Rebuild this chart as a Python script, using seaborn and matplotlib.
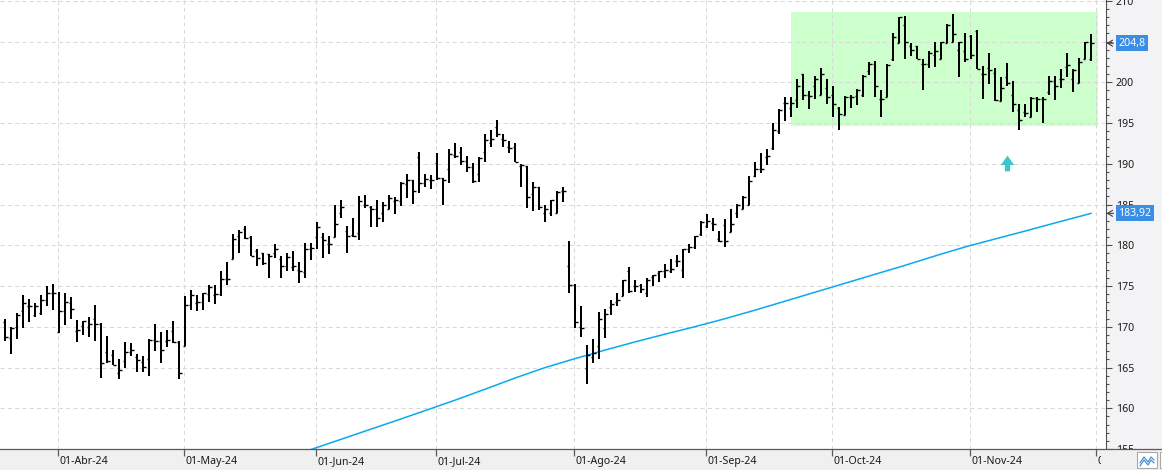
import numpy as np
import pandas as pd
import matplotlib
matplotlib.use("Agg")
import matplotlib.pyplot as plt
import seaborn as sns
from matplotlib.patches import Rectangle
from matplotlib.path import Path
from matplotlib.transforms import blended_transform_factory, Bbox
from matplotlib.ticker import MultipleLocator

# ---------------- data (daily OHLC bars, bar index 0 = first visible session) -------------
opens = [
    170.6, 168.6, 170.0, 171.9, 172.5, 171.5, 171.7, 173.3, 174.2,
    169.4, 171.9, 172.9, 169.5, 170.1, 170.0, 171.0, 170.4, 166.9, 166.5, 164.3,
    165.8, 166.9, 166.3, 165.7, 166.0, 168.4, 168.3, 168.3, 169.5, 168.1,
    167.6, 172.7, 172.9, 173.1, 174.0, 173.9, 174.0, 175.9,
    178.3, 181.15, 181.96, 181.06, 179.3, 179.0, 178.9, 179.1, 178.3, 177.5, 177.3, 177.0, 176.7, 179.6, 181.0,
    181.05, 180.1, 181.0, 183.9, 181.75, 181.3, 181.5, 185.0, 184.7, 184.5, 183.9, 184.45, 185.4, 185.4, 187.5,
    188.0, 190.8, 187.7, 188.0, 190.1, 188.2, 189.3, 191.1, 191.4, 190.35,
    189.6, 188.75, 191.5, 192.6, 194.5, 193.0, 192.0, 192.0, 189.7, 189.7, 186.25, 187.1, 183.9, 184.0, 184.0,
    186.6, 177.5, 175.1, 170.0, 165.0, 166.3, 167.6,
    169.9, 172.4, 173.1, 173.8, 176.85, 175.0, 175.1, 174.1, 176.15, 176.6, 176.85, 176.85, 178.1, 177.0,
    179.55, 179.75, 181.4, 182.4, 182.7, 180.8,
    182.5, 181.6, 183.9, 184.45, 185.0, 188.5, 189.4, 190.8, 191.97, 194.0, 197.4, 196.9, 197.8, 200.97,
    198.4, 199.5, 198.4, 199.3, 198.4, 196.8,
    196.0, 198.15, 198.3, 198.5, 201.4, 202.2, 198.0, 198.2, 202.9, 204.8, 207.0, 204.4, 204.4, 202.3,
    202.3, 203.35, 202.9, 204.8, 205.0, 204.0, 203.8,
    205.7, 206.3, 201.0, 201.7, 201.2, 197.7, 200.6, 198.45, 196.6, 196.3, 195.7, 198.05, 198.0, 198.85,
    200.1, 200.4, 201.9, 200.4, 199.95, 202.9, 202.8,
]
highs = [
    171.0, 170.0, 171.7, 173.9, 173.4, 172.9, 173.9, 175.0, 175.3,
    174.3, 174.1, 173.7, 170.8, 170.7, 171.2, 172.7, 170.5, 168.9, 167.2, 166.1,
    168.1, 168.0, 166.7, 166.4, 168.5, 170.3, 169.4, 169.6, 170.7, 168.3,
    173.8, 174.5, 173.9, 174.2, 175.1, 175.1, 176.9, 178.0,
    181.35, 181.88, 182.37, 181.15, 179.5, 179.1, 178.94, 180.16, 178.7, 179.1, 179.3, 178.0, 180.3, 180.3, 182.8,
    181.55, 181.2, 185.0, 185.6, 182.4, 183.4, 186.05, 186.2, 184.8, 185.6, 185.3, 186.2, 185.9, 187.8, 188.75,
    188.0, 191.4, 188.7, 188.6, 191.3, 188.2, 191.8, 192.5, 192.0, 190.95,
    190.1, 190.8, 193.65, 194.1, 195.4, 193.65, 192.8, 192.6, 190.0, 189.7, 187.8, 187.2, 184.95, 185.6, 186.6,
    187.1, 180.5, 175.25, 172.5, 167.8, 168.5, 171.85,
    172.2, 173.3, 174.2, 175.8, 177.3, 175.8, 175.2, 176.0, 176.4, 176.85, 177.7, 178.3, 178.8, 179.55,
    180.2, 181.2, 183.0, 183.85, 183.4, 181.75,
    183.2, 184.4, 185.05, 186.1, 188.5, 190.2, 191.3, 191.8, 194.96, 196.7, 198.15, 198.2, 200.4, 200.97,
    198.97, 200.8, 201.7, 200.4, 199.55, 196.95,
    198.3, 198.5, 199.15, 200.9, 202.5, 202.6, 199.05, 202.2, 206.1, 207.97, 208.1, 204.8, 204.5, 202.8,
    203.8, 204.9, 204.9, 207.1, 208.4, 205.0, 206.1,
    205.8, 206.4, 202.0, 203.6, 201.7, 200.6, 202.4, 200.16, 197.35, 197.3, 198.15, 198.15, 198.15, 200.8,
    200.8, 201.6, 203.6, 201.6, 202.95, 205.0, 205.9,
]
lows = [
    168.2, 166.7, 168.5, 169.8, 170.6, 171.2, 171.5, 172.5, 172.0,
    169.2, 170.2, 171.0, 168.1, 169.0, 168.8, 168.3, 163.7, 165.6, 165.3, 163.6,
    165.0, 166.4, 164.5, 164.5, 164.0, 167.0, 165.6, 167.5, 168.0, 163.6,
    167.6, 172.1, 171.9, 172.1, 173.0, 172.8, 173.8, 175.1,
    178.28, 179.0, 180.74, 178.69, 177.46, 177.6, 176.0, 178.5, 176.0, 176.85, 176.85, 175.4, 176.0, 178.2, 179.6,
    178.5, 178.9, 181.0, 183.3, 179.0, 181.05, 180.7, 184.6, 182.3, 182.2, 182.8, 184.4, 183.8, 184.8, 185.75,
    185.1, 186.4, 187.1, 186.9, 188.0, 185.0, 187.7, 190.7, 189.85, 189.0,
    187.6, 187.8, 190.25, 192.0, 193.25, 192.0, 191.35, 190.25, 187.2, 184.6, 184.25, 184.3, 182.8, 183.6, 184.0,
    185.35, 174.2, 169.9, 168.7, 163.0, 165.6, 166.0,
    168.6, 171.4, 172.5, 173.8, 174.2, 174.3, 174.1, 173.7, 175.05, 175.5, 175.95, 176.65, 177.3, 175.95,
    179.0, 179.6, 181.15, 182.1, 181.75, 180.4,
    179.75, 181.6, 183.3, 184.4, 185.0, 188.4, 188.9, 189.8, 191.7, 193.7, 195.2, 195.7, 196.9, 197.8,
    196.7, 197.9, 198.4, 197.3, 195.8, 194.2,
    196.0, 196.8, 197.2, 198.15, 200.9, 198.2, 195.8, 198.2, 202.65, 204.8, 202.9, 203.2, 202.9, 199.0,
    201.7, 201.9, 202.9, 204.8, 204.9, 200.7, 202.5,
    202.8, 201.6, 197.95, 199.75, 197.7, 197.7, 199.6, 196.3, 194.1, 195.7, 195.7, 196.4, 195.0, 198.5,
    197.8, 199.3, 200.6, 198.85, 199.9, 202.9, 202.65,
]
closes = [
    168.7, 169.8, 171.5, 172.9, 172.5, 172.6, 173.3, 174.2, 174.2,
    171.9, 173.1, 172.2, 169.6, 170.7, 170.4, 170.3, 165.5, 165.8, 165.3, 164.7,
    166.9, 167.1, 165.9, 165.1, 168.4, 168.3, 167.2, 168.4, 168.1, 164.3,
    172.7, 173.9, 173.1, 174.1, 174.9, 174.0, 175.9, 175.9,
    180.74, 181.68, 180.94, 178.73, 178.4, 177.8, 178.7, 179.6, 177.4, 178.6, 177.4, 176.9, 179.6, 179.7, 182.2,
    180.7, 180.1, 182.6, 184.7, 181.1, 181.1, 185.4, 185.0, 184.5, 183.3, 184.9, 185.8, 185.6, 187.7, 188.0,
    186.7, 187.7, 188.1, 188.0, 188.2, 188.0, 191.2, 191.0, 190.35, 189.65,
    187.9, 190.75, 192.9, 193.1, 193.65, 192.9, 191.9, 190.25, 189.85, 185.95, 187.2, 184.7, 184.5, 185.5, 186.5,
    186.65, 175.1, 170.6, 169.9, 166.5, 166.8, 171.0,
    171.6, 172.8, 173.3, 175.75, 174.4, 175.0, 174.6, 175.75, 176.4, 176.8, 177.0, 177.1, 178.1, 179.5,
    179.75, 181.1, 182.8, 183.0, 182.6, 180.5,
    180.5, 182.6, 185.0, 185.95, 187.9, 189.4, 189.4, 190.9, 194.2, 196.6, 197.5, 197.5, 199.5, 198.5,
    198.3, 200.4, 201.0, 198.2, 197.3, 196.1,
    198.2, 198.2, 199.0, 200.8, 202.25, 199.55, 197.9, 202.1, 205.5, 207.97, 204.9, 204.0, 202.9, 202.25,
    203.55, 203.85, 204.9, 207.0, 205.9, 204.9, 202.9,
    203.3, 201.6, 201.0, 201.5, 197.8, 199.3, 199.9, 197.3, 195.4, 196.2, 198.05, 197.95, 198.0, 200.1,
    199.5, 200.4, 202.1, 201.5, 202.45, 204.9, 204.8,
]

# moving average (read at selected bars)
ma_index = [50, 55, 60, 65, 70, 75, 80, 85, 90, 95, 100, 105, 110, 115, 120, 125, 130,
            135, 140, 145, 150, 155, 160, 165, 170, 175, 181]
ma_values = [154.70, 155.95, 157.20, 158.45, 159.72, 161.00, 162.35, 163.72, 165.00, 166.10,
             167.15, 168.15, 169.10, 170.02, 171.00, 172.05, 173.15, 174.25, 175.35, 176.45,
             177.55, 178.70, 179.80, 180.78, 181.75, 182.75, 183.92]

# month axis
month_labels = ['01-Abr-24', '01-May-24', '01-Jun-24', '01-Jul-24', '01-Ago-24',
                '01-Sep-24', '01-Oct-24', '01-Nov-24', '01-Dic-24']
month_start_bar = [9, 30, 52, 72, 95, 117, 138, 161, 182]

# range zone and signal
zone_start, zone_end = 130.95, 182.05
zone_low, zone_high = 194.65, 208.65
signal_bar = [167]
signal_price = [190.1]

y_ticks = list(range(155, 211, 5))

# ---------------- figure -----------------------------------------------------------------
W, H = 1162, 470
sns.set_theme(style="white")
plt.rcParams['font.family'] = ['Noto Sans', 'DejaVu Sans']

fig = plt.figure(figsize=(W / 100, H / 100), dpi=100, facecolor='#F3F3F5')
AX_RIGHT = 1105.7
AX_BOTTOM = 449
ax = fig.add_axes([0, (H - AX_BOTTOM) / H, AX_RIGHT / W, AX_BOTTOM / H])
ax.set_facecolor('white')

n = len(opens)
idx = np.arange(n)
df = pd.DataFrame({'i': idx, 'open': opens, 'high': highs, 'low': lows, 'close': closes})

ax.set_xlim(-0.883, 183.4)
ax.set_ylim(155.0, 210.1)

# zone
ax.add_patch(Rectangle((zone_start, zone_low), zone_end - zone_start, zone_high - zone_low,
                       facecolor='#CCFFCC', edgecolor='none', zorder=0.2))

# dashed grid
grid_kw = dict(color='#D9D9D9', lw=0.75, ls=(0, (4, 3)), zorder=0.5)
month_pos = [m - 0.25 for m in month_start_bar]
for m in month_pos:
    ax.axvline(m, **grid_kw)
for v in y_ticks:
    ax.axhline(v, **grid_kw)

# OHLC bars
ax.vlines(df['i'], df['low'], df['high'], color='black', lw=1.44, zorder=3)
ax.hlines(df['open'], df['i'] - 0.45, df['i'], color='black', lw=1.0, zorder=3)
ax.hlines(df['close'], df['i'], df['i'] + 0.45, color='black', lw=1.0, zorder=3)

# moving average
sns.lineplot(x=ma_index, y=ma_values, ax=ax, color='#0AA8EE', lw=1.1, zorder=2)

# signal arrow
arrow_path = Path([(-0.16, -0.5), (0.16, -0.5), (0.16, -0.1), (0.43, -0.1), (0.0, 0.5),
                   (-0.43, -0.1), (-0.16, -0.1), (-0.16, -0.5)],
                  [Path.MOVETO] + [Path.LINETO] * 6 + [Path.CLOSEPOLY])
sns.scatterplot(x=signal_bar, y=signal_price, ax=ax, marker=arrow_path, s=128,
                color='#3CC8C8', linewidth=0, zorder=4)

# axes cosmetics
ax.set_xlabel('')
ax.set_ylabel('')
ax.set_xticks([])
ax.yaxis.tick_right()
ax.set_yticks(y_ticks)
ax.yaxis.set_minor_locator(MultipleLocator(1))
ax.tick_params(axis='y', which='major', direction='out', length=4.3, width=0.8,
               color='#505050', pad=3, labelsize=7.6, labelcolor='#1A1A1A')
ax.tick_params(axis='y', which='minor', direction='out', length=2.2, width=0.8, color='#505050')
for s in ['top', 'left', 'bottom']:
    ax.spines[s].set_visible(False)
ax.spines['right'].set_color('#505050')
ax.spines['right'].set_linewidth(0.8)

# last-value labels on the price axis (they cover the nearby tick label, as in the source)
tr = blended_transform_factory(fig.transFigure, ax.transData)


def fmt(v):
    s = f'{v:.2f}'.rstrip('0').rstrip('.')
    return s.replace('.', ',')


for val in [closes[-1], ma_values[-1]]:
    ax.text(1118.5 / W, val, fmt(val), transform=tr, ha='left', va='center', color='white',
            fontsize=7.6, clip_on=False, zorder=10,
            bbox=dict(boxstyle='square,pad=0.25', fc='#3A8EE6', ec='none'))
    ax.annotate('', xy=(1106.5 / W, val), xycoords=tr, xytext=(1113.5 / W, val), textcoords=tr,
                arrowprops=dict(arrowstyle='->,head_length=0.3,head_width=0.18', color='#404040',
                                lw=0.8, shrinkA=0, shrinkB=0),
                annotation_clip=False)

# bottom date band
band = fig.add_axes([0, 0, 1, (H - AX_BOTTOM) / H], zorder=5)
band.set_facecolor('#F0F0F0')
band.set_xlim(0, W)
band.set_ylim(H, AX_BOTTOM)
band.set_xticks([])
band.set_yticks([])
for s in band.spines.values():
    s.set_visible(False)
band.spines['top'].set_visible(True)
band.spines['top'].set_color('#5A5A5A')
band.spines['top'].set_linewidth(0.9)

fig.canvas.draw()
clip = Bbox.from_extents(0, 0, 1101, H - AX_BOTTOM)
for m, lab in zip(month_pos, month_labels):
    xpx = ax.transData.transform((m, 170))[0]
    band.vlines(xpx, AX_BOTTOM, AX_BOTTOM + 6.5, color='#5A5A5A', lw=0.9)
    t = band.text(xpx + 1.5, 461.5, lab, ha='left', va='center', fontsize=7.6, color='#1A1A1A')
    t.set_clip_on(True)
    t.set_clip_box(clip)

# small toolbar icons (bottom right)
band.add_patch(Rectangle((1137, 452), 20, 16, facecolor='white', edgecolor='#A8A8A8', lw=0.8))
band.plot([1140, 1144, 1148, 1151, 1154], [463, 457, 462, 457, 460], color='#4A90D9', lw=0.9)
band.plot([1140, 1144, 1148, 1151, 1154], [466, 460, 465, 460, 463], color='#4A90D9', lw=0.9)
band.add_patch(Rectangle((1159.5, 452), 10, 16, facecolor='white', edgecolor='#A8A8A8', lw=0.8,
                         clip_on=True))

fig.savefig('out.png', dpi=100, facecolor=fig.get_facecolor())
